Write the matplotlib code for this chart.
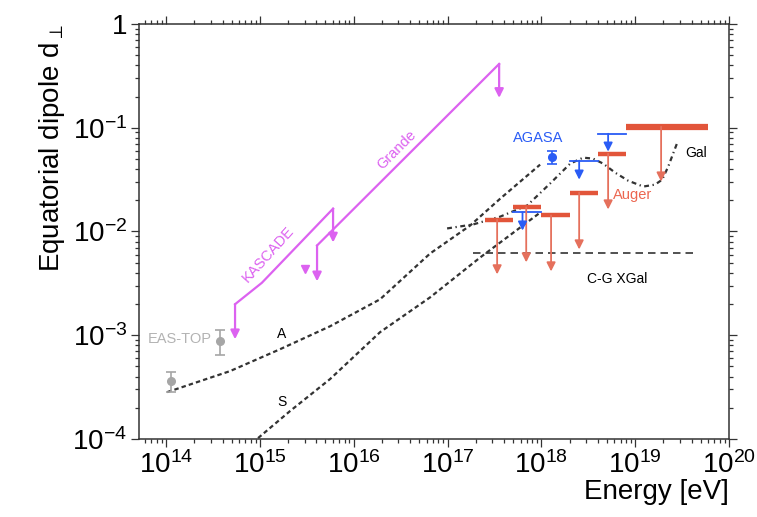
import matplotlib
matplotlib.use('Agg')
import matplotlib.pyplot as plt
from matplotlib.ticker import LogLocator, FixedLocator, FixedFormatter, NullFormatter

plt.rcParams['font.family'] = ['Liberation Sans', 'DejaVu Sans']
plt.rcParams['mathtext.default'] = 'regular'

# --- data ---
# EAS-TOP (grey points)
eas_E = [1.12e14, 3.77e14]
eas_d = [3.65e-4, 8.85e-4]
eas_lo = [2.83e-4, 6.42e-4]
eas_hi = [4.41e-4, 1.12e-3]

# KASCADE upper-limit curve, arrows hang from first and last point
kas_E = [5.44e14, 1.05e15, 6.03e15]
kas_d = [1.99e-3, 3.20e-3, 1.66e-2]
kas_tip = [9.15e-4, 7.84e-3]

# KASCADE-Grande upper-limit line
grande_E = [4.07e15, 3.55e17]
grande_d = [7.33e-3, 0.412]
grande_tip = [3.31e-3, 0.194]

# single triangle marker
tri_E = [3.03e15]
tri_d = [4.31e-3]

# Auger upper limits (energy bins)
auger_lo = [2.5e17, 5e17, 1e18, 2e18, 4e18, 8e18]
auger_hi = [5e17, 1e18, 2e18, 4e18, 8e18, 6e19]
auger_ul = [1.30e-2, 1.71e-2, 1.43e-2, 2.37e-2, 5.62e-2, 0.102]
auger_Emed = [3.38e17, 6.9e17, 1.27e18, 2.53e18, 5.15e18, 1.89e19]
auger_tip = [3.86e-3, 5.04e-3, 4.12e-3, 6.71e-3, 1.63e-2, 3.03e-2]

# AGASA upper limits and measurement
agasa_lo = [5e17, 2e18, 4e18]
agasa_hi = [1e18, 4e18, 8e18]
agasa_ul = [1.53e-2, 4.82e-2, 8.75e-2]
agasa_Emed = [6.3e17, 2.53e18, 5.15e18]
agasa_tip = [1.02e-2, 3.16e-2, 5.88e-2]
agasa_pt_E = [1.29e18]
agasa_pt_d = [5.23e-2]
agasa_pt_lo = [4.48e-2]
agasa_pt_hi = [5.92e-2]

# model predictions
A_E = [1.03e14, 4.81e14, 1.64e15, 5.60e15, 1.91e16, 6.53e16, 1.74e17, 3.64e17, 9.7e17]
A_d = [2.83e-4, 4.51e-4, 7.33e-4, 1.22e-3, 2.22e-3, 6.14e-3, 1.14e-2, 2.07e-2, 4.41e-2]
S_E = [9.57e14, 2.10e15, 5.60e15, 1.91e16, 6.53e16, 2.23e17, 9.7e17]
S_d = [1.02e-4, 1.86e-4, 3.78e-4, 1.07e-3, 2.32e-3, 5.62e-3, 1.52e-2]
gal_E = [9.9e16, 1.88e17, 3.64e17, 7.06e17, 1.24e18, 2.03e18, 2.79e18, 3.56e18,
         4.56e18, 6.12e18, 8.41e18, 1.22e19, 1.63e19, 1.94e19, 2.25e19, 2.81e19]
gal_d = [1.07e-2, 1.17e-2, 1.39e-2, 1.78e-2, 2.90e-2, 4.51e-2, 5.15e-2, 5.04e-2,
         4.51e-2, 3.69e-2, 3.09e-2, 2.71e-2, 2.83e-2, 3.16e-2, 4.22e-2, 7.18e-2]
cg_E = [1.88e17, 4.7e19]
cg_d = [6.21e-3, 6.21e-3]

xticks = [1e14, 1e15, 1e16, 1e17, 1e18, 1e19, 1e20]
xticklabels = ['$10^{14}$', '$10^{15}$', '$10^{16}$', '$10^{17}$', '$10^{18}$', '$10^{19}$', '$10^{20}$']
yticks = [1e-4, 1e-3, 1e-2, 1e-1, 1]
yticklabels = ['$10^{-4}$', '$10^{-3}$', '$10^{-2}$', '$10^{-1}$', '1']

magenta = '#dc62f0'
red = '#e2553a'
red_arrow = '#e5705c'
blue = '#2a5cf5'
grey = '#a6a6a6'
dark = '#333333'


def down_arrow(ax, x, y0, y1, color, lw=1.3, ms=13):
    ax.annotate('', xy=(x, y1), xytext=(x, y0),
                arrowprops=dict(arrowstyle='-|>', color=color, lw=lw,
                                mutation_scale=ms, shrinkA=0, shrinkB=0))


fig = plt.figure(figsize=(7.57, 5.17), dpi=100)
ax = fig.add_axes([0.1836, 0.1509, 0.7794, 0.8027])
ax.set_xscale('log')
ax.set_yscale('log')
ax.set_xlim(5.15e13, 1e20)
ax.set_ylim(1e-4, 1)

# models
ax.plot(A_E, A_d, color=dark, lw=1.6, dashes=(2, 1.4))
ax.plot(S_E, S_d, color=dark, lw=1.6, dashes=(2, 1.4))
ax.plot(gal_E, gal_d, color=dark, lw=1.6, dashes=(2.2, 1.6, 0.6, 1.6))
ax.plot(cg_E, cg_d, color=dark, lw=1.2, dashes=(4.5, 3))

# EAS-TOP
ax.errorbar(eas_E, eas_d,
            yerr=[[d - lo for d, lo in zip(eas_d, eas_lo)],
                  [hi - d for d, hi in zip(eas_d, eas_hi)]],
            fmt='o', color=grey, ms=5.5, capsize=3.5, elinewidth=1.2, capthick=1.2)

# KASCADE
ax.plot(kas_E, kas_d, color=magenta, lw=1.6)
down_arrow(ax, kas_E[0], kas_d[0], kas_tip[0], magenta, lw=1.6)
down_arrow(ax, kas_E[-1], kas_d[-1], kas_tip[1], magenta, lw=1.6)

# Grande
ax.plot(grande_E, grande_d, color=magenta, lw=1.6)
down_arrow(ax, grande_E[0], grande_d[0], grande_tip[0], magenta, lw=1.6)
down_arrow(ax, grande_E[-1], grande_d[-1], grande_tip[1], magenta, lw=1.6)
ax.plot(tri_E, tri_d, 'v', color=magenta, ms=6)

# Auger
for i in range(len(auger_ul)):
    w = 4.5 if i == len(auger_ul) - 1 else 3.2
    down_arrow(ax, auger_Emed[i], auger_ul[i], auger_tip[i], red_arrow)
    ax.plot([auger_lo[i], auger_hi[i]], [auger_ul[i], auger_ul[i]],
            color=red, lw=w, solid_capstyle='butt')

# AGASA
for i in range(len(agasa_ul)):
    ax.plot([agasa_lo[i], agasa_hi[i]], [agasa_ul[i], agasa_ul[i]],
            color=blue, lw=1.3)
    down_arrow(ax, agasa_Emed[i], agasa_ul[i], agasa_tip[i], blue)
ax.errorbar(agasa_pt_E, agasa_pt_d,
            yerr=[[agasa_pt_d[0] - agasa_pt_lo[0]], [agasa_pt_hi[0] - agasa_pt_d[0]]],
            fmt='o', color=blue, ms=5.5, capsize=3.5, elinewidth=1.2, capthick=1.2)

# labels in the plot
ax.text(3.1e14, 9.1e-4, 'EAS-TOP', color='#b3b3b3', fontsize=10.5, ha='right', va='center')
ax.text(1.22e15, 6.0e-3, 'KASCADE', color=magenta, fontsize=10.5, rotation=48,
        ha='center', va='center')
ax.text(2.9e16, 6.1e-2, 'Grande', color=magenta, fontsize=10.5, rotation=45,
        ha='center', va='center')
ax.text(9.25e17, 8.0e-2, 'AGASA', color=blue, fontsize=10.5, ha='center', va='center')
ax.text(9.3e18, 2.27e-2, 'Auger', color='#ec6650', fontsize=10.5, ha='center', va='center')
ax.text(4.47e19, 5.75e-2, 'Gal', color='black', fontsize=10, ha='center', va='center')
ax.text(6.43e18, 3.45e-3, 'C-G XGal', color='black', fontsize=10, ha='center', va='center')
ax.text(1.71e15, 1.02e-3, 'A', color='black', fontsize=10, ha='center', va='center')
ax.text(1.71e15, 2.29e-4, 'S', color='black', fontsize=10, ha='center', va='center')

# axes styling
ax.xaxis.set_major_locator(FixedLocator(xticks))
ax.xaxis.set_major_formatter(FixedFormatter(xticklabels))
ax.yaxis.set_major_locator(FixedLocator(yticks))
ax.yaxis.set_major_formatter(FixedFormatter(yticklabels))
ax.xaxis.set_minor_locator(LogLocator(base=10, subs=range(2, 10), numticks=20))
ax.yaxis.set_minor_locator(LogLocator(base=10, subs=range(2, 10), numticks=20))
ax.xaxis.set_minor_formatter(NullFormatter())
ax.yaxis.set_minor_formatter(NullFormatter())
ax.tick_params(which='both', direction='out', top=True, right=True, color=dark, width=0.9)
ax.tick_params(which='major', length=5.5, labelsize=20, pad=3)
ax.tick_params(which='minor', length=3)
for sp in ax.spines.values():
    sp.set_linewidth(1.1)
    sp.set_color(dark)

ax.set_xlabel('Energy [eV]', fontsize=20, loc='right', labelpad=0)
ax.set_ylabel(r'Equatorial dipole d$_{\perp}$', fontsize=20, loc='top', labelpad=4)

fig.savefig('out.png', dpi=100)
